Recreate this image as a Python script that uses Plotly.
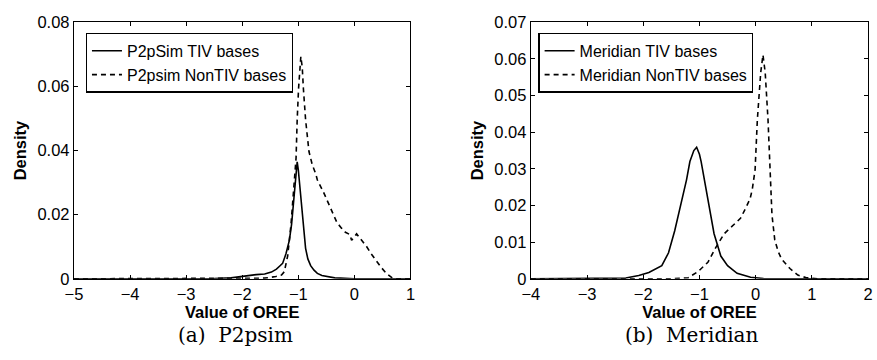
import plotly.graph_objects as go

# ---- data ----
p2p_tiv_x = [-5, -3, -2.5, -2.2, -2.07, -1.89, -1.75, -1.6, -1.48, -1.42, -1.39, -1.33, -1.28, -1.22, -1.16,
             -1.12, -1.08, -1.06, -1.02, -1.0, -0.98, -0.95, -0.91, -0.87, -0.83, -0.78, -0.72, -0.66,
             -0.58, -0.49, -0.35, -0.25, 0, 1]
p2p_tiv_y = [0, 0, 0.0001, 0.0003, 0.0005, 0.001, 0.0013, 0.0015, 0.0021, 0.0026, 0.003, 0.004, 0.0048,
             0.0078, 0.012, 0.017, 0.025, 0.031, 0.0365, 0.034, 0.0305, 0.024, 0.018, 0.0095, 0.0062,
             0.0041, 0.0027, 0.0017, 0.001, 0.0007, 0.0003, 0.0002, 0, 0]

p2p_non_x = [-5, -2, -1.6, -1.4, -1.3, -1.25, -1.19, -1.13, -1.08, -1.04, -1.02, -0.995, -0.955, -0.93,
             -0.91, -0.87, -0.81, -0.75, -0.69, -0.66, -0.55, -0.46, -0.38, -0.31, -0.23, -0.16, -0.08,
             -0.05, 0.04, 0.13, 0.22, 0.3, 0.39, 0.48, 0.57, 0.68, 0.75, 1]
p2p_non_y = [0, 0, 0.0002, 0.0007, 0.0012, 0.0022, 0.0071, 0.017, 0.027, 0.0377, 0.0496, 0.0595, 0.0693,
             0.066, 0.0595, 0.0496, 0.0397, 0.0355, 0.0328, 0.0308, 0.027, 0.0234, 0.020, 0.0175, 0.0158,
             0.0145, 0.0138, 0.012, 0.014, 0.012, 0.010, 0.0078, 0.0056, 0.0035, 0.0017, 0.0002, 0, 0]

mer_tiv_x = [-4, -2.6, -2.31, -2.08, -1.9, -1.67, -1.55, -1.44, -1.32, -1.23, -1.17, -1.1, -1.05, -1.0,
             -0.97, -0.91, -0.82, -0.74, -0.62, -0.5, -0.33, -0.2, -0.09, 0.14, 2]
mer_tiv_y = [0, 0, 0.0002, 0.0009, 0.0017, 0.0036, 0.0071, 0.0131, 0.0209, 0.027, 0.032, 0.035, 0.0359,
             0.034, 0.032, 0.027, 0.0192, 0.0123, 0.0062, 0.0036, 0.0015, 0.0008, 0.0004, 0.0001, 0]

mer_non_x = [-4, -1.5, -1.2, -1.03, -0.85, -0.71, -0.56, -0.44, -0.33, -0.27, -0.18, -0.1, -0.06, -0.01,
             0.03, 0.09, 0.13, 0.17, 0.22, 0.25, 0.29, 0.34, 0.4, 0.46, 0.61, 0.75, 0.9, 1.1, 2]
mer_non_y = [0, 0, 0.0003, 0.0019, 0.0045, 0.0085, 0.0123, 0.014, 0.0157, 0.0165, 0.0192, 0.0218, 0.0244,
             0.0298, 0.0434, 0.0563, 0.0611, 0.0563, 0.0434, 0.030, 0.0175, 0.0106, 0.0075, 0.0054,
             0.0028, 0.001, 0.0003, 0, 0]

left_xticks = [-5, -4, -3, -2, -1, 0, 1]
left_yticks = [0, 0.02, 0.04, 0.06, 0.08]
left_ytext = ["0", "0.02", "0.04", "0.06", "0.08"]
right_xticks = [-4, -3, -2, -1, 0, 1, 2]
right_yticks = [0, 0.01, 0.02, 0.03, 0.04, 0.05, 0.06, 0.07]
right_ytext = ["0", "0.01", "0.02", "0.03", "0.04", "0.05", "0.06", "0.07"]

names = ["P2pSim TIV bases", "P2psim NonTIV bases", "Meridian TIV bases", "Meridian NonTIV bases"]
captions = ["(a)  P2psim", "(b)  Meridian"]

FONT = "Liberation Sans, Arial, Helvetica, sans-serif"
W, H = 877, 360

fig = go.Figure()
fig.add_trace(go.Scatter(x=p2p_tiv_x, y=p2p_tiv_y, mode="lines", name=names[0],
                         line=dict(color="black", width=1.6), xaxis="x", yaxis="y", legend="legend"))
fig.add_trace(go.Scatter(x=p2p_non_x, y=p2p_non_y, mode="lines", name=names[1],
                         line=dict(color="black", width=1.6, dash="5px,4px"), xaxis="x", yaxis="y",
                         legend="legend"))
fig.add_trace(go.Scatter(x=mer_tiv_x, y=mer_tiv_y, mode="lines", name=names[2],
                         line=dict(color="black", width=1.6), xaxis="x2", yaxis="y2", legend="legend2"))
fig.add_trace(go.Scatter(x=mer_non_x, y=mer_non_y, mode="lines", name=names[3],
                         line=dict(color="black", width=1.6, dash="5px,4px"), xaxis="x2", yaxis="y2",
                         legend="legend2"))

ydom = [1 - 284 / H, 1 - 14 / H]
common_ax = dict(showline=True, linecolor="black", linewidth=1.2, mirror="allticks", ticks="inside",
                 ticklen=4, tickcolor="black", showgrid=False, zeroline=False,
                 tickfont=dict(family=FONT, size=16.5, color="black"))
title_font = dict(family=FONT, size=16.5, color="black")

fig.update_layout(
    width=W, height=H, margin=dict(l=0, r=0, t=0, b=0),
    paper_bgcolor="white", plot_bgcolor="white",
    xaxis=dict(domain=[66 / W, 408 / W], range=[-5, 1], tickvals=left_xticks, anchor="y",
               title=dict(text="<b>Value of OREE</b>", font=title_font, standoff=2), **common_ax),
    yaxis=dict(domain=ydom, range=[0, 0.08], tickvals=left_yticks, ticktext=left_ytext, anchor="x",
               title=dict(text="<b>Density</b>", font=title_font, standoff=6), **common_ax),
    xaxis2=dict(domain=[530.3 / W, 873 / W], range=[-4, 2], tickvals=right_xticks, anchor="y2",
                title=dict(text="<b>Value of OREE</b>", font=title_font, standoff=2), **common_ax),
    yaxis2=dict(domain=ydom, range=[0, 0.07], tickvals=right_yticks, ticktext=right_ytext, anchor="x2",
                title=dict(text="<b>Density</b>", font=title_font, standoff=6), **common_ax),
    legend=dict(x=78 / W, y=1 - 56.5 / H, xanchor="left", yanchor="middle", bgcolor="white",
                bordercolor="black", borderwidth=1.2, font=dict(family=FONT, size=16, color="black"),
                itemwidth=30, tracegroupgap=0),
    legend2=dict(x=538 / W, y=1 - 56.5 / H, xanchor="left", yanchor="middle", bgcolor="white",
                 bordercolor="black", borderwidth=1.2, font=dict(family=FONT, size=16, color="black"),
                 itemwidth=30, tracegroupgap=0),
    showlegend=True,
)

cap_font = dict(family="DejaVu Serif, serif", size=20, color="black")
fig.add_annotation(text=captions[0], x=230 / W, y=1 - 343 / H, xref="paper", yref="paper",
                   showarrow=False, font=cap_font, xanchor="center", yanchor="middle")
fig.add_annotation(text=captions[1], x=694 / W, y=1 - 343 / H, xref="paper", yref="paper",
                   showarrow=False, font=cap_font, xanchor="center", yanchor="middle")

fig.write_html("out.html")
